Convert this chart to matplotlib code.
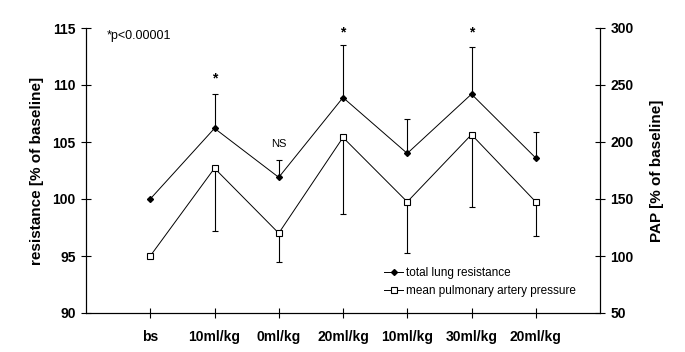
import matplotlib
matplotlib.use("Agg")
import matplotlib.pyplot as plt
import numpy as np

plt.rcParams['font.family'] = ['Liberation Sans', 'DejaVu Sans']

categories = ["bs", "10ml/kg", "0ml/kg", "20ml/kg", "10ml/kg", "30ml/kg", "20ml/kg"]
resistance = [100.0, 106.2, 101.9, 108.9, 104.0, 109.2, 103.6]
resistance_err = [0.0, 3.0, 1.5, 4.6, 3.0, 4.1, 2.3]
pap = [100.0, 177.0, 120.0, 204.0, 147.5, 206.5, 147.5]
pap_err = [0.0, 55.5, 25.0, 67.0, 45.0, 63.5, 30.0]
annotations = ["", "*", "NS", "*", "", "*", ""]
annot_y = [0, 110.6, 104.8, 114.6, 0, 114.6, 0]

fig = plt.figure(figsize=(6.85, 3.52), dpi=100)
ax = fig.add_axes([86/685, 1-313/352, (600-86)/685, (313-28)/352])
ax2 = ax.twinx()

x = np.arange(1, len(categories) + 1)

ax.errorbar(x, resistance, yerr=[np.zeros(len(x)), resistance_err], fmt='-', color='black',
            lw=0.7, elinewidth=0.8, capsize=2.5, capthick=0.8, marker='D', markersize=3,
            markerfacecolor='black', zorder=3)
l1, = ax.plot([], [], '-', color='black', lw=0.7, marker='D', markersize=3)

ax2.errorbar(x, pap, yerr=[pap_err, np.zeros(len(x))], fmt='-', color='black',
             lw=0.7, elinewidth=0.8, capsize=2.5, capthick=0.8, marker='s', markersize=5,
             markerfacecolor='white', markeredgewidth=0.8, zorder=3)
l2, = ax.plot([], [], '-', color='black', lw=0.7, marker='s', markersize=5,
              markerfacecolor='white', markeredgewidth=0.8)

ax.set_xlim(0, 8)
ax.set_ylim(90, 115)
ax2.set_ylim(50, 300)
ax.set_xticks(x)
ax.set_xticklabels(categories, fontsize=10, fontweight='bold')
ax.set_yticks(np.arange(90, 116, 5))
ax.set_yticklabels([str(v) for v in range(90, 116, 5)], fontsize=10, fontweight='bold')
ax2.set_yticks(np.arange(50, 301, 50))
ax2.set_yticklabels([str(v) for v in range(50, 301, 50)], fontsize=10, fontweight='bold')

for a in (ax, ax2):
    a.spines['top'].set_visible(False)
    for s in a.spines.values():
        s.set_linewidth(0.8)
ax.tick_params(axis='both', direction='inout', length=7, width=0.8, pad=4)
ax2.tick_params(axis='y', direction='inout', length=7, width=0.8, pad=4)
ax.tick_params(axis='x', pad=9)

ax.set_ylabel("resistance [% of baseline]", fontsize=11, fontweight='bold', labelpad=6)
ax2.set_ylabel("PAP [% of baseline]", fontsize=11, fontweight='bold', labelpad=12)

for xi, t, yy in zip(x, annotations, annot_y):
    if t:
        if t == "*":
            ax.text(xi, yy, t, ha='center', va='center', fontsize=10, fontweight='bold')
        else:
            ax.text(xi, yy, t, ha='center', va='center', fontsize=8)

ax.text(0.33, 114.3, "*p<0.00001", fontsize=9, ha='left', va='center')

leg = ax.legend([l1, l2], ["total lung resistance", "mean pulmonary artery pressure"],
                loc='lower left', bbox_to_anchor=(0.56, 0.02), frameon=False, fontsize=8.5,
                handlelength=1.6, handletextpad=0.2, labelspacing=0.45)

fig.savefig("out.png", dpi=100)
